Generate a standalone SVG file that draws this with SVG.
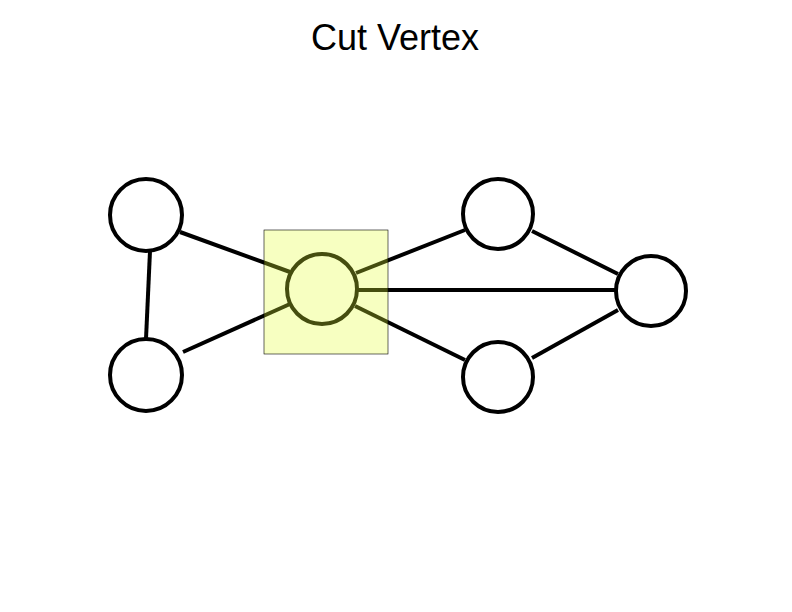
<svg xmlns="http://www.w3.org/2000/svg" width="792" height="612" viewBox="0 0 792 612">
<style>
.n{fill:#fff;stroke:#000;stroke-width:4}
.e line{stroke:#000;stroke-width:4}
</style>
<rect width="792" height="612" fill="#fff"/>
<text x="395" y="50" font-family="Liberation Sans, Arial, sans-serif" font-size="36" text-anchor="middle">Cut Vertex</text>
<g class="e" id="connectors">
<line x1="180" y1="232" x2="290" y2="272"/>
<line x1="183" y1="352" x2="290" y2="304"/>
<line x1="150" y1="251" x2="146" y2="339"/>
<line x1="356" y1="273" x2="465" y2="230"/>
<line x1="358" y1="290" x2="615" y2="290"/>
<line x1="355" y1="306" x2="465" y2="360"/>
<line x1="532" y1="231" x2="618" y2="274"/>
<line x1="532" y1="358" x2="618" y2="310"/>
</g>
<g id="nA"><circle class="n" cx="146" cy="215" r="36"/></g>
<g id="nB"><circle class="n" cx="146" cy="375" r="36"/></g>
<g id="nC"><circle class="n" cx="322" cy="289" r="35"/></g>
<g id="nD"><circle class="n" cx="498" cy="214" r="35"/></g>
<g id="nE"><circle class="n" cx="651" cy="291" r="35"/></g>
<g id="nF"><circle class="n" cx="498" cy="377" r="35"/></g>
<g id="highlight"><rect x="264" y="230" width="124" height="124" fill="#e6ff33" fill-opacity="0.3" stroke="#000" stroke-width="0.6"/></g>
</svg>
